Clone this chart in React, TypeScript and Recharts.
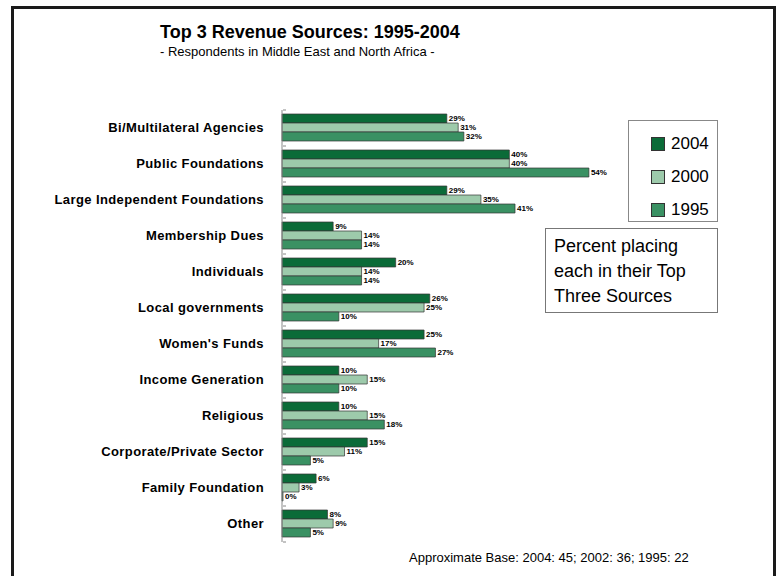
import React from "react";
import { BarChart, Bar, XAxis, YAxis, Legend, LabelList } from "recharts";

const categories = [
  "Bi/Multilateral Agencies",
  "Public Foundations",
  "Large Independent Foundations",
  "Membership Dues",
  "Individuals",
  "Local governments",
  "Women's Funds",
  "Income Generation",
  "Religious",
  "Corporate/Private Sector",
  "Family Foundation",
  "Other",
];
const values2004 = [29, 40, 29, 9, 20, 26, 25, 10, 10, 15, 6, 8];
const values2000 = [31, 40, 35, 14, 14, 25, 17, 15, 15, 11, 3, 9];
const values1995 = [32, 54, 41, 14, 14, 10, 27, 10, 18, 5, 0, 5];

const seriesNames = ["2004", "2000", "1995"];
const seriesColors = ["#0b6b38", "#9dcaab", "#3a9163"];

const data = categories.map((name, i) => ({
  name,
  y2004: values2004[i],
  y2000: values2000[i],
  y1995: values1995[i],
}));

const FONT = "'Liberation Sans', Arial, Helvetica, sans-serif";

function CategoryTick(props: any) {
  const { x, y, payload, index } = props;
  const half = 18;
  return (
    <g>
      <line x1={x + 9} x2={x + 12} y1={y - half} y2={y - half} stroke="#888" />
      {index === categories.length - 1 && (
        <line x1={x + 9} x2={x + 12} y1={y + half} y2={y + half} stroke="#888" />
      )}
      <text
        x={x - 10}
        y={y}
        dy={4}
        textAnchor="end"
        fontFamily={FONT}
        fontWeight="bold"
        fontSize={13}
        letterSpacing={0.4}
        fill="#000"
      >
        {payload.value}
      </text>
    </g>
  );
}

function LegendBox() {
  return (
    <div
      style={{
        width: 90,
        height: 102,
        border: "1px solid #888",
        boxSizing: "border-box",
        paddingTop: 6,
        fontFamily: FONT,
      }}
    >
      {seriesNames.map((s, i) => (
        <div
          key={s}
          style={{ display: "flex", alignItems: "center", height: 33, paddingLeft: 22 }}
        >
          <span
            style={{
              display: "inline-block",
              width: 12,
              height: 12,
              background: seriesColors[i],
              border: "1px solid #333",
              marginRight: 6,
            }}
          />
          <span style={{ fontSize: 17, color: "#000" }}>{s}</span>
        </div>
      ))}
    </div>
  );
}

export default function App() {
  return (
    <div
      style={{
        position: "absolute",
        left: 0,
        top: 0,
        width: 779,
        height: 576,
        overflow: "hidden",
        background: "#fff",
        fontFamily: FONT,
      }}
    >
      <div
        style={{
          position: "absolute",
          left: 11,
          top: 6,
          width: 765,
          height: 620,
          border: "3px solid #1a1a1a",
          boxSizing: "border-box",
        }}
      />
      <div
        style={{
          position: "absolute",
          left: 160,
          top: 22,
          fontSize: 18,
          fontWeight: "bold",
          lineHeight: "20px",
          whiteSpace: "nowrap",
        }}
      >
        Top 3 Revenue Sources: 1995-2004
      </div>
      <div
        style={{
          position: "absolute",
          left: 160,
          top: 44,
          fontSize: 13,
          lineHeight: "15px",
          whiteSpace: "nowrap",
        }}
      >
        - Respondents in Middle East and North Africa -
      </div>
      <div style={{ position: "absolute", left: 0, top: 0 }}>
        <BarChart
          width={779}
          height={576}
          layout="vertical"
          data={data}
          margin={{ top: 110, right: 156, bottom: 34, left: 0 }}
          barCategoryGap={4}
          barGap={0}
        >
          <XAxis type="number" domain={[0, 60]} hide />
          <YAxis
            type="category"
            dataKey="name"
            width={282}
            axisLine={{ stroke: "#888" }}
            tickLine={false}
            tick={<CategoryTick />}
            interval={0}
          />
          <Legend
            layout="vertical"
            verticalAlign="middle"
            align="center"
            wrapperStyle={{ position: "absolute", left: 628, top: 120, width: 90 }}
            content={() => <LegendBox />}
          />
          {["y2004", "y2000", "y1995"].map((key, i) => (
            <Bar
              key={key}
              dataKey={key}
              name={seriesNames[i]}
              fill={seriesColors[i]}
              stroke="#333"
              strokeWidth={0.7}
              minPointSize={key === "y1995" ? 1 : 0}
              isAnimationActive={false}
            >
              <LabelList
                dataKey={key}
                position="right"
                offset={2}
                formatter={(v: any) => `${v}%`}
                style={{
                  fontSize: 8,
                  fontWeight: "bold",
                  fill: "#000",
                  fontFamily: FONT,
                }}
              />
            </Bar>
          ))}
        </BarChart>
      </div>
      <div
        style={{
          position: "absolute",
          left: 545,
          top: 228,
          width: 173,
          height: 85,
          border: "1px solid #777",
          boxSizing: "border-box",
          padding: "5px 0 0 8px",
          fontSize: 18,
          lineHeight: "25px",
          color: "#000",
        }}
      >
        Percent placing
        <br />
        each in their Top
        <br />
        Three Sources
      </div>
      <div
        style={{
          position: "absolute",
          left: 409,
          top: 550,
          fontSize: 13,
          lineHeight: "15px",
          whiteSpace: "nowrap",
        }}
      >
        Approximate Base: 2004: 45; 2002: 36; 1995: 22
      </div>
    </div>
  );
}
